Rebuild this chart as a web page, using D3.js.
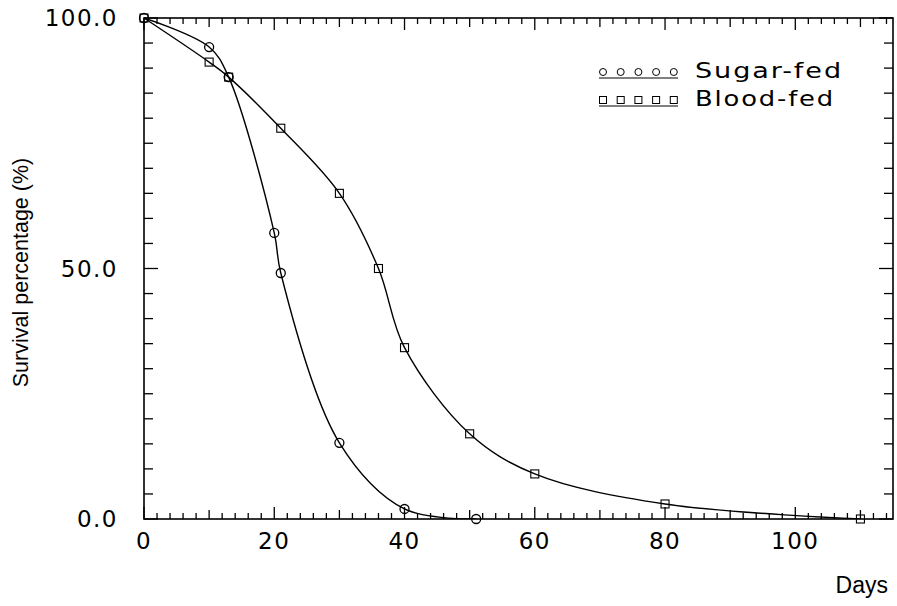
<!DOCTYPE html>
<html>
<head>
<meta charset="utf-8">
<script src="https://cdn.jsdelivr.net/npm/d3@7"></script>
<style>
  body { margin: 0; background: #fff; }
  svg { display: block; }
</style>
</head>
<body>
<div id="container"></div>
<script>
// Données
const sugarDays = [0, 10, 13, 20, 21, 30, 40, 51];
const sugarSurvival = [100, 94.2, 88.2, 57.1, 49.1, 15.2, 2, 0];
const bloodDays = [0, 10, 13, 21, 30, 36, 40, 50, 60, 80, 110];
const bloodSurvival = [100, 91.2, 88.2, 78, 65, 50, 34.2, 17, 9, 3, 0];
const xTickLabels = [0, 20, 40, 60, 80, 100];
const yTickLabels = [0, 50, 100];
const legendLabels = ["Sugar-fed", "Blood-fed"];

const width = 897;
const height = 606;
const margin = { left: 144, right: 4, top: 18, bottom: 87 };

const svg = d3.select("#container")
    .append("svg")
    .attr("width", width)
    .attr("height", height);

const xScale = d3.scaleLinear()
    .domain([0, 115])
    .range([margin.left, width - margin.right]);

const yScale = d3.scaleLinear()
    .domain([0, 100])
    .range([height - margin.bottom, margin.top]);

const x0 = xScale(0), x1 = xScale(115);
const y0 = yScale(0), y1 = yScale(100);

// Zone de tracé (les courbes sont coupées au cadre)
svg.append("clipPath").attr("id", "plot-clip")
    .append("rect")
    .attr("x", x0).attr("y", y1 - 2)
    .attr("width", x1 - x0).attr("height", y0 - y1 + 2);

// Cadre
svg.append("rect")
    .attr("x", x0).attr("y", y1)
    .attr("width", x1 - x0).attr("height", y0 - y1)
    .attr("fill", "none").attr("stroke", "#000").attr("stroke-width", 1.6);

// Graduations vers l'intérieur
const xTicks = d3.range(0, 115, 2);
const tickLen = d => d % 20 === 0 ? 12 : (d % 10 === 0 ? 9 : 6);
svg.append("g").selectAll("line").data(xTicks).join("line")
    .attr("x1", d => xScale(d)).attr("x2", d => xScale(d))
    .attr("y1", y0).attr("y2", d => y0 - tickLen(d))
    .attr("stroke", "#000").attr("stroke-width", 1.3);
svg.append("g").selectAll("line").data(xTicks).join("line")
    .attr("x1", d => xScale(d)).attr("x2", d => xScale(d))
    .attr("y1", y1).attr("y2", d => y1 + tickLen(d))
    .attr("stroke", "#000").attr("stroke-width", 1.3);

const yTicks = d3.range(0, 101, 5);
const yTickLen = d => d % 50 === 0 ? 14 : 9;
svg.append("g").selectAll("line").data(yTicks).join("line")
    .attr("x1", x0).attr("x2", d => x0 + yTickLen(d))
    .attr("y1", d => yScale(d)).attr("y2", d => yScale(d))
    .attr("stroke", "#000").attr("stroke-width", 1.3);
svg.append("g").selectAll("line").data(yTicks).join("line")
    .attr("x1", x1).attr("x2", d => x1 - yTickLen(d))
    .attr("y1", d => yScale(d)).attr("y2", d => yScale(d))
    .attr("stroke", "#000").attr("stroke-width", 1.3);

// Libellés des axes
const tickFont = "'DejaVu Sans', sans-serif";
svg.append("g").selectAll("text").data(xTickLabels).join("text")
    .attr("x", d => xScale(d))
    .attr("y", y0 + 30)
    .attr("text-anchor", "middle")
    .attr("font-family", tickFont)
    .attr("font-size", 23)
    .attr("letter-spacing", 1.5)
    .text(d => d);

svg.append("g").selectAll("text").data(yTickLabels).join("text")
    .attr("x", x0 - 26)
    .attr("y", d => yScale(d))
    .attr("dy", "0.36em")
    .attr("text-anchor", "end")
    .attr("font-family", tickFont)
    .attr("font-size", 23)
    .attr("letter-spacing", 1.5)
    .text(d => d.toFixed(1));

svg.append("text")
    .attr("transform", `translate(28,${(y0 + y1) / 2 + 4}) rotate(-90)`)
    .attr("text-anchor", "middle")
    .attr("font-family", "'Liberation Sans', Arial, sans-serif")
    .attr("font-size", 21.5)
    .text("Survival percentage (%)");

svg.append("text")
    .attr("x", 888)
    .attr("y", 593)
    .attr("text-anchor", "end")
    .attr("font-family", "'Liberation Sans', Arial, sans-serif")
    .attr("font-size", 23)
    .text("Days");

// Courbes lissées
const line = d3.line()
    .x(d => xScale(d[0]))
    .y(d => yScale(d[1]))
    .curve(d3.curveCatmullRom.alpha(0.5));

const sugar = sugarDays.map((d, i) => [d, sugarSurvival[i]]);
const blood = bloodDays.map((d, i) => [d, bloodSurvival[i]]);

const curves = svg.append("g").attr("clip-path", "url(#plot-clip)");
curves.append("path").datum(sugar)
    .attr("d", line).attr("fill", "none")
    .attr("stroke", "#000").attr("stroke-width", 1.4);
curves.append("path").datum(blood)
    .attr("d", line).attr("fill", "none")
    .attr("stroke", "#000").attr("stroke-width", 1.4);

svg.append("g").selectAll("circle").data(sugar).join("circle")
    .attr("cx", d => xScale(d[0])).attr("cy", d => yScale(d[1]))
    .attr("r", 4.5)
    .attr("fill", "none").attr("stroke", "#000").attr("stroke-width", 1.3);

svg.append("g").selectAll("rect").data(blood).join("rect")
    .attr("x", d => xScale(d[0]) - 4).attr("y", d => yScale(d[1]) - 4)
    .attr("width", 8).attr("height", 8)
    .attr("fill", "none").attr("stroke", "#000").attr("stroke-width", 1.1);

// Légende
const legendMarks = d3.range(5);
const legendWidths = [148, 140];
legendLabels.forEach((label, i) => {
    const ly = 78 + i * 28;
    const g = svg.append("g");
    g.append("line")
        .attr("x1", 599).attr("x2", 678)
        .attr("y1", ly).attr("y2", ly)
        .attr("stroke", "#000").attr("stroke-width", 1.2);
    if (i === 0) {
        g.selectAll("circle").data(legendMarks).join("circle")
            .attr("cx", k => 603 + k * 17.7).attr("cy", ly - 6)
            .attr("r", 3.5)
            .attr("fill", "none").attr("stroke", "#000").attr("stroke-width", 1);
    } else {
        g.selectAll("rect").data(legendMarks).join("rect")
            .attr("x", k => 599.5 + k * 17.7).attr("y", ly - 9.5)
            .attr("width", 7).attr("height", 7)
            .attr("fill", "none").attr("stroke", "#000").attr("stroke-width", 1);
    }
    g.append("text")
        .attr("x", 695)
        .attr("y", ly)
        .attr("font-family", tickFont)
        .attr("font-size", 21)
        .attr("letter-spacing", 1.5)
        .attr("textLength", legendWidths[i])
        .attr("lengthAdjust", "spacingAndGlyphs")
        .text(label);
});
</script>
</body>
</html>
